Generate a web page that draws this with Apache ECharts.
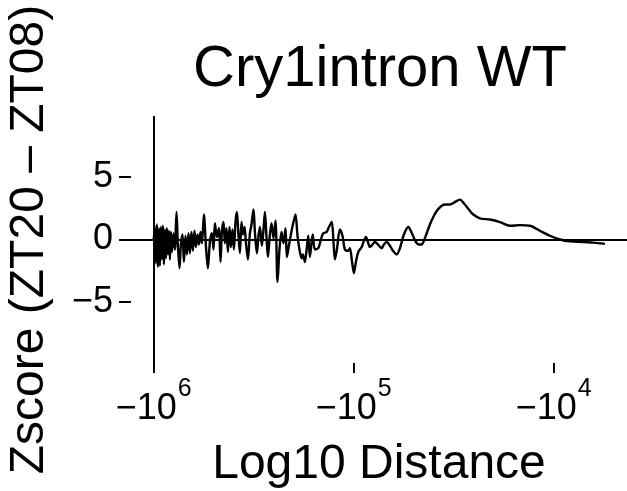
<!DOCTYPE html>
<html>
<head>
<meta charset="utf-8">
<script src="https://cdn.jsdelivr.net/npm/echarts@6/dist/echarts.min.js"></script>
<style>
html,body{margin:0;padding:0;background:#fff;}
#c{width:627px;height:491px;}
</style>
</head>
<body>
<div id="c"></div>
<script>
// log10 of |distance| (distance is negative, upstream)
const logDist = [
6.000,5.994,5.989,5.984,5.979,5.974,5.969,5.964,5.959,5.954,
5.949,5.944,5.939,5.934,5.929,5.924,5.919,5.914,5.909,5.901,
5.894,5.886,5.879,5.871,5.864,5.856,5.849,5.841,5.834,5.826,
5.819,5.811,5.804,5.796,5.789,5.781,5.774,5.766,5.759,5.749,
5.739,5.729,5.719,5.709,5.701,5.694,5.684,5.674,5.666,5.659,
5.651,5.644,5.636,5.629,5.621,5.614,5.606,5.599,5.591,5.584,
5.576,5.569,5.561,5.554,5.546,5.539,5.529,5.519,5.511,5.501,
5.494,5.484,5.476,5.469,5.459,5.451,5.444,5.436,5.429,5.419,
5.411,5.401,5.391,5.381,5.371,5.361,5.351,5.341,5.334,5.324,
5.314,5.304,5.291,5.281,5.269,5.260,5.254,5.244,5.236,5.227,
5.219,5.205,5.194,5.177,5.164,5.152,5.135,5.124,5.110,5.101,
5.094,5.084,5.069,5.056,5.044,5.027,5.019,5.009,4.999,4.989,
4.977,4.960,4.949,4.939,4.929,4.919,4.906,4.894,4.879,4.860,
4.849,4.835,4.819,4.804,4.785,4.769,4.749,4.727,4.709,4.689,
4.674,4.660,4.649,4.635,4.619,4.602,4.584,4.560,4.539,4.519,
4.494,4.469,4.444,4.424,4.402,4.369,4.319,4.269,4.219,4.169,
4.119,4.069,4.019,3.969,3.919,3.852,3.802,3.744
];
// Zscore (ZT20 - ZT08)
const zscore = [
0.0,1.0,-1.9,1.2,-2.2,0.9,-2.1,1.0,-1.6,1.1,
-2.0,0.8,-1.5,0.9,-1.2,0.7,-1.6,0.6,-1.0,0.5,
-0.8,2.2,-0.5,-2.3,-0.4,0.4,-1.8,0.3,-1.2,0.5,
-1.1,0.6,-0.9,0.7,-0.6,0.4,-0.4,0.6,-0.3,2.0,
-0.5,-2.3,-0.2,0.5,-0.8,1.3,0.2,0.9,-1.8,0.6,
1.4,-0.3,0.9,-1.0,1.0,-0.6,0.8,-0.8,1.4,2.2,
0.3,-1.1,1.4,0.4,1.0,-0.2,-1.6,0.5,1.2,2.4,
0.6,-1.1,0.3,1.0,-0.5,0.8,2.2,0.2,-1.4,0.4,
1.3,0.1,1.5,-3.4,-0.8,0.6,-0.3,0.9,-1.4,-0.5,
0.4,1.2,2.0,0.3,-1.0,-1.5,-1.2,-1.8,-0.9,0.3,
-1.4,0.4,-0.8,-0.7,0.0,0.5,0.6,1.0,1.4,-0.2,
-1.6,-0.8,0.8,0.3,-0.8,-0.9,-0.7,-1.7,-2.7,-1.8,
-1.0,-0.6,-0.1,0.2,-0.2,-0.6,-0.4,-0.2,-0.4,-0.7,
-0.4,-0.2,-0.5,-0.9,-1.2,-0.7,0.4,1.0,0.5,-0.2,
-0.4,-0.4,-0.1,0.5,1.2,1.8,2.3,2.7,2.8,2.8,
3.0,3.2,2.8,2.4,2.0,1.7,1.6,1.4,1.1,1.15,
1.1,0.7,0.3,0.0,-0.15,-0.2,-0.25,-0.35
];
const xTickExp = [6, 5, 4];     // tick labels −10^6, −10^5, −10^4
const yTickVals = [-5, 0, 5];

const FONT = '"Liberation Sans", Arial, Helvetica, sans-serif';
const chart = echarts.init(document.getElementById('c'), null, {renderer: 'canvas'});
const seriesData = logDist.map((l, i) => [-l, zscore[i]]);
const minus = '\u2212';

chart.setOption({
  animation: false,
  backgroundColor: '#ffffff',
  title: {
    text: 'Cry1intron WT',
    left: 375, top: 36,
    textAlign: 'center',
    textStyle: {fontFamily: FONT, fontSize: 58, fontWeight: 'normal', color: '#000'}
  },
  grid: {left: 131, right: 0, top: 116, bottom: 128, containLabel: false, outerBoundsMode: 'none'},
  xAxis: {
    type: 'value',
    min: -6.1135, max: -3.6335,
    name: 'Log10 Distance',
    nameLocation: 'middle',
    nameGap: 78,
    nameTextStyle: {fontFamily: FONT, fontSize: 48, color: '#000'},
    axisLine: {show: false, onZero: false},
    splitLine: {show: false},
    axisTick: {show: true, length: 10, lineStyle: {color: '#000', width: 2}, customValues: xTickExp.map(e => -e)},
    axisLabel: {
      customValues: xTickExp.map(e => -e),
      margin: 14,
      formatter: v => '{m|' + minus + '10}{s|' + Math.round(-v) + '}',
      rich: {
        m: {fontFamily: FONT, fontSize: 36, color: '#000', verticalAlign: 'bottom', lineHeight: 50},
        s: {fontFamily: FONT, fontSize: 25, color: '#000', verticalAlign: 'top', lineHeight: 50, padding: [0, 0, 0, 1]}
      }
    }
  },
  yAxis: {
    type: 'value',
    min: -9.9, max: 9.9,
    name: 'Zscore (ZT20 \u2013 ZT08)',
    nameLocation: 'middle',
    nameRotate: 90,
    nameGap: 77,
    nameTextStyle: {fontFamily: FONT, fontSize: 48, color: '#000'},
    axisLine: {show: false, onZero: false},
    splitLine: {show: false},
    axisTick: {show: true, length: 12, lineStyle: {color: '#000', width: 2}, customValues: yTickVals},
    axisLabel: {
      customValues: yTickVals,
      margin: 18,
      fontFamily: FONT, fontSize: 36, color: '#000',
      formatter: v => (v < 0 ? minus + Math.abs(v) : String(v))
    }
  },
  series: [{
    type: 'line',
    data: seriesData,
    showSymbol: false,
    smooth: 0.3,
    lineStyle: {color: '#000', width: 2.4},
    markLine: {
      silent: true,
      symbol: 'none',
      label: {show: false},
      lineStyle: {color: '#000', width: 2, type: 'solid'},
      data: [{yAxis: 0}, {xAxis: -6}]
    }
  }]
});
</script>
</body>
</html>
